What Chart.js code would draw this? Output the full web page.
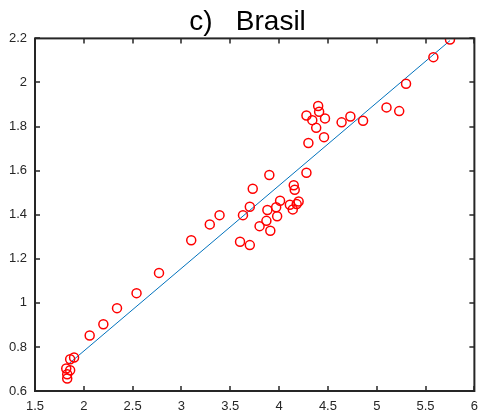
<!DOCTYPE html>
<html>
<head>
<meta charset="utf-8">
<script src="https://cdn.jsdelivr.net/npm/chart.js@4"></script>
<style>
  body { margin: 0; background: #fff; }
  #wrap { width: 486px; height: 416px; }
</style>
</head>
<body>
<div id="wrap"><canvas id="myChart"></canvas></div>
<script>
// scatter values
const xs = [5.75, 5.58, 5.30, 5.10, 5.23, 4.86, 4.73, 4.64, 4.40, 4.41, 4.28, 4.34, 4.47, 4.38, 4.46, 4.30,
  4.28, 4.15, 4.16, 3.90, 3.73, 3.70, 3.63, 3.39, 3.29, 3.10, 2.77, 3.60, 3.70, 3.88, 3.97, 4.01, 3.98,
  3.87, 3.80, 3.91, 4.11, 4.14, 4.18, 4.20, 2.54, 2.34, 2.20, 2.06, 1.90, 1.86, 1.82, 1.86, 1.83, 1.83];
const ys = [2.195, 2.115, 1.994, 1.887, 1.870, 1.826, 1.846, 1.819, 1.893, 1.867, 1.850, 1.829, 1.837, 1.794, 1.752, 1.725,
  1.590, 1.534, 1.513, 1.580, 1.518, 1.436, 1.398, 1.398, 1.356, 1.284, 1.136, 1.277, 1.262, 1.421, 1.434, 1.463, 1.393,
  1.372, 1.348, 1.327, 1.445, 1.424, 1.448, 1.460, 1.044, 0.976, 0.903, 0.852, 0.752, 0.744, 0.702, 0.694, 0.676, 0.657];
// fitted line end points
const fitX = [1.85, 5.75];
const fitY = [0.725, 2.19];
const xTicks = [1.5, 2, 2.5, 3, 3.5, 4, 4.5, 5, 5.5, 6];
const yTicks = [0.6, 0.8, 1, 1.2, 1.4, 1.6, 1.8, 2, 2.2];
const xLabels = ['1.5', '2', '2.5', '3', '3.5', '4', '4.5', '5', '5.5', '6'];
const yLabels = ['0.6', '0.8', '1', '1.2', '1.4', '1.6', '1.8', '2', '2.2'];

const axisColor = '#262626';

// box around the plot with ticks pointing inward, like matlab
const boxPlugin = {
  id: 'box',
  afterLayout(chart) {
    // title sits a bit right of the canvas centre in the original
    if (chart.titleBlock) chart.titleBlock.left = 14;
  },
  afterDraw(chart) {
    const c = chart.ctx;
    const a = chart.chartArea;
    const sx = chart.scales.x, sy = chart.scales.y;
    c.save();
    c.strokeStyle = axisColor;
    c.lineWidth = 2;
    c.strokeRect(a.left, a.top, a.right - a.left, a.bottom - a.top);
    c.lineWidth = 1.5;
    c.beginPath();
    xTicks.forEach(v => {
      const p = Math.round(sx.getPixelForValue(v));
      c.moveTo(p, a.bottom); c.lineTo(p, a.bottom - 5);
      c.moveTo(p, a.top); c.lineTo(p, a.top + 5);
    });
    yTicks.forEach(v => {
      const p = Math.round(sy.getPixelForValue(v));
      c.moveTo(a.left, p); c.lineTo(a.left + 5, p);
      c.moveTo(a.right, p); c.lineTo(a.right - 5, p);
    });
    c.stroke();
    c.restore();
  }
};

const ctx = document.getElementById('myChart');
new Chart(ctx, {
  type: 'scatter',
  data: {
    datasets: [{
      label: 'Brasil',
      data: xs.map((x, i) => ({x: x, y: ys[i]})),
      pointStyle: 'circle',
      pointRadius: 4.5,
      pointHoverRadius: 4.5,
      borderWidth: 1.5,
      borderColor: '#ff0000',
      backgroundColor: 'rgba(0,0,0,0)',
    }, {
      label: 'ajuste',
      type: 'line',
      data: fitX.map((x, i) => ({x: x, y: fitY[i]})),
      borderColor: '#0072BD',
      borderWidth: 1,
      pointRadius: 0,
      fill: false,
    }]
  },
  options: {
    responsive: true,
    maintainAspectRatio: false,
    animation: false,
    layout: { padding: { left: 0, right: 5, top: 0, bottom: 0 } },
    plugins: {
      legend: { display: false },
      tooltip: { enabled: false },
      title: {
        display: true,
        text: 'c)   Brasil',
        color: '#000',
        font: { family: 'Liberation Sans, Arial, sans-serif', size: 28, weight: 'normal', lineHeight: 1.05 },
        padding: { top: 8, bottom: 1 }
      }
    },
    scales: {
      x: {
        type: 'linear',
        min: 1.5, max: 6,
        grid: { display: false, drawTicks: false },
        border: { display: false },
        afterBuildTicks: s => { s.ticks = xTicks.map(v => ({value: v})); },
        afterFit: s => { s.height = 25; },
        ticks: {
          padding: 8,
          maxRotation: 0,
          autoSkip: false,
          color: axisColor,
          font: { family: 'Liberation Sans, Arial, sans-serif', size: 13 },
          callback: (v) => xLabels[xTicks.indexOf(v)]
        }
      },
      y: {
        type: 'linear',
        min: 0.6, max: 2.2,
        grid: { display: false, drawTicks: false },
        border: { display: false },
        afterBuildTicks: s => { s.ticks = yTicks.map(v => ({value: v})); },
        afterFit: s => { s.width = 35; },
        ticks: {
          padding: 8,
          autoSkip: false,
          color: axisColor,
          font: { family: 'Liberation Sans, Arial, sans-serif', size: 13 },
          callback: (v) => yLabels[yTicks.indexOf(v)]
        }
      }
    }
  },
  plugins: [boxPlugin]
});
</script>
</body>
</html>
